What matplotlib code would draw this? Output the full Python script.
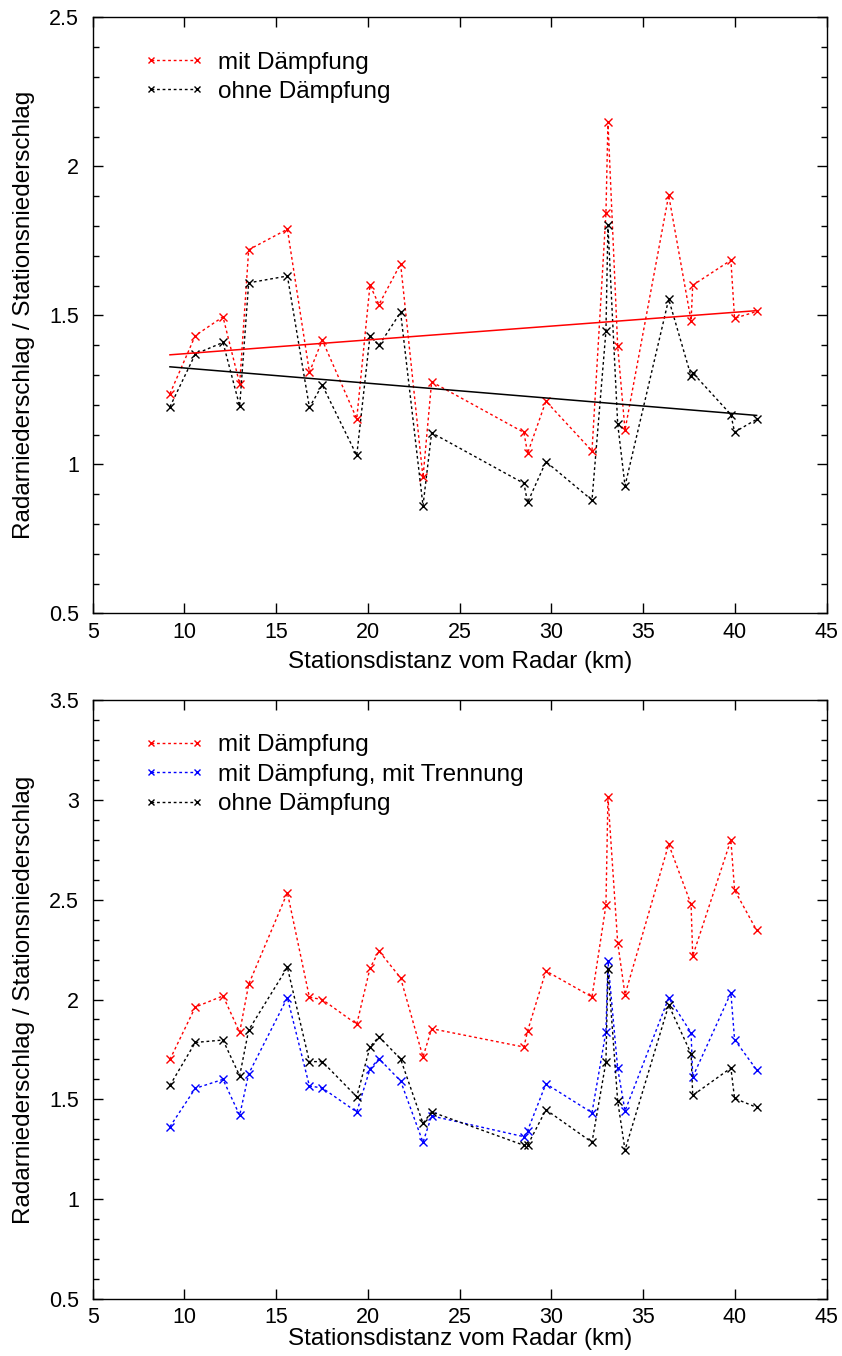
import matplotlib
matplotlib.use('Agg')
import matplotlib.pyplot as plt
from matplotlib.ticker import MultipleLocator
import numpy as np

plt.rcParams['font.family'] = ['Liberation Sans', 'DejaVu Sans']

# Stationsdistanz vom Radar (km)
distanz = [9.21, 10.59, 12.10, 13.01, 13.50, 15.61, 16.81, 17.51, 19.39, 20.11,
           20.60, 21.78, 23.00, 23.47, 28.50, 28.70, 29.70, 32.21, 32.97, 33.08,
           33.61, 34.01, 36.39, 37.61, 37.70, 39.78, 39.98, 41.18]

# oberes Diagramm
oben_mit = [1.237, 1.432, 1.495, 1.270, 1.720, 1.789, 1.309, 1.417, 1.153, 1.601,
            1.536, 1.673, 0.956, 1.277, 1.107, 1.037, 1.212, 1.045, 1.842, 2.149,
            1.397, 1.115, 1.903, 1.482, 1.601, 1.685, 1.490, 1.513]
oben_ohne = [1.193, 1.370, 1.409, 1.195, 1.609, 1.632, 1.191, 1.266, 1.030, 1.431,
             1.399, 1.510, 0.861, 1.106, 0.936, 0.872, 1.009, 0.880, 1.447, 1.802,
             1.136, 0.928, 1.554, 1.296, 1.307, 1.167, 1.108, 1.151]

# unteres Diagramm
unten_mit = [1.700, 1.962, 2.018, 1.836, 2.076, 2.535, 2.011, 2.000, 1.876, 2.156,
             2.243, 2.108, 1.712, 1.854, 1.762, 1.842, 2.143, 2.013, 2.472, 3.013,
             2.285, 2.024, 2.777, 2.477, 2.218, 2.799, 2.548, 2.347]
unten_trennung = [1.363, 1.555, 1.600, 1.420, 1.628, 2.009, 1.567, 1.557, 1.437, 1.652,
                  1.704, 1.592, 1.285, 1.417, 1.313, 1.343, 1.578, 1.433, 1.839, 2.193,
                  1.655, 1.442, 2.008, 1.834, 1.612, 2.033, 1.799, 1.648]
unten_ohne = [1.570, 1.785, 1.797, 1.618, 1.847, 2.161, 1.689, 1.689, 1.513, 1.762,
              1.814, 1.702, 1.380, 1.437, 1.270, 1.270, 1.448, 1.285, 1.687, 2.154,
              1.492, 1.246, 1.972, 1.729, 1.520, 1.657, 1.505, 1.460]

ROT = '#ff0000'
BLAU = '#0000ff'
SCHWARZ = '#000000'
punkt = (0, (2, 2))

fig = plt.figure(figsize=(8.42, 13.56), dpi=100)
ax1 = fig.add_axes([0.1101, 0.5477, 0.8717, 0.4395])
ax2 = fig.add_axes([0.1101, 0.0420, 0.8717, 0.4418])


def serie(ax, y, farbe, label):
    ax.plot(distanz, y, color=farbe, linestyle=punkt, linewidth=1,
            marker='x', markersize=6, markeredgewidth=1, label=label)


def achsen(ax, ymin, ymax, xpad):
    ax.set_xlim(5, 45)
    ax.set_ylim(ymin, ymax)
    ax.xaxis.set_major_locator(MultipleLocator(5))
    ax.yaxis.set_major_locator(MultipleLocator(0.5))
    ax.yaxis.set_minor_locator(MultipleLocator(0.1))
    ax.tick_params(which='both', direction='in', top=True, right=True,
                   labelsize=15.5, width=1)
    ax.tick_params(which='major', length=7)
    ax.tick_params(which='minor', length=4)
    ax.tick_params(axis='y', pad=10)
    ax.tick_params(axis='x', pad=6)
    ax.yaxis.set_major_formatter(plt.FuncFormatter(lambda v, p: ('%g' % v)))
    ax.set_xlabel('Stationsdistanz vom Radar (km)', fontsize=17.5, labelpad=xpad)
    ax.set_ylabel('Radarniederschlag / Stationsniederschlag', fontsize=17.5, labelpad=10)
    for s in ax.spines.values():
        s.set_linewidth(1)


def legende(ax, y0):
    ax.legend(loc='upper left', bbox_to_anchor=(0.07, y0), frameon=False,
              fontsize=17.5, numpoints=2, handlelength=2.47, handletextpad=0.58,
              labelspacing=0.3, borderpad=0, borderaxespad=0, markerscale=0.8)


# oben
serie(ax1, oben_mit, ROT, 'mit Dämpfung')
serie(ax1, oben_ohne, SCHWARZ, 'ohne Dämpfung')

# Ausgleichsgeraden
xr = np.array([min(distanz), max(distanz)])
for y, farbe in [(oben_mit, ROT), (oben_ohne, SCHWARZ)]:
    k, d = np.polyfit(distanz, y, 1)
    ax1.plot(xr, k * xr + d, color=farbe, linewidth=1.1)

achsen(ax1, 0.5, 2.5, 6)
legende(ax1, 0.9426)

# unten
serie(ax2, unten_mit, ROT, 'mit Dämpfung')
serie(ax2, unten_trennung, BLAU, 'mit Dämpfung, mit Trennung')
serie(ax2, unten_ohne, SCHWARZ, 'ohne Dämpfung')
achsen(ax2, 0.5, 3.5, 0)
legende(ax2, 0.9424)

fig.savefig('out.png', dpi=100)
